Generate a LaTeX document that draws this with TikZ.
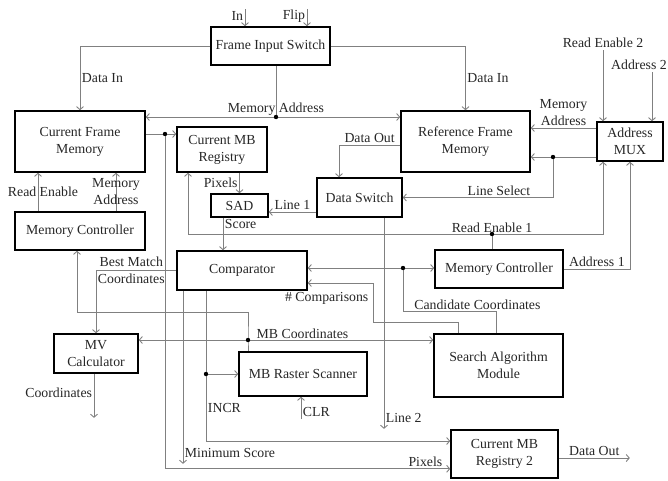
\documentclass[tikz,border=0pt]{standalone}
\usepackage{fontspec}
\setmainfont{Liberation Serif}
\usetikzlibrary{positioning,arrows.meta}

\begin{document}
\begin{tikzpicture}[x=1pt, y=-1pt,
    font=\fontsize{13.8}{17}\selectfont,
    box/.style={draw, line width=1.6pt, align=center, inner sep=0pt, text=black!85},
    arr/.style={draw=black!50, line width=0.9pt, -{Straight Barb[length=3pt,width=7pt]}},
    wire/.style={draw=black!50, line width=0.9pt},
    lbl/.style={inner sep=1.5pt, text=black!85, align=center}]
  \useasboundingbox (0,0) rectangle (668,480);

  \node[box, minimum width=119pt, minimum height=38pt] (fis) at (270.5,46) {Frame Input Switch};
  \node[box, minimum width=130pt, minimum height=61pt] (cfm) at (80,141.5) {Current Frame\\Memory};
  \node[box, minimum width=90pt, minimum height=45pt] (cmb) at (222,149.5) {Current MB\\Registry};
  \node[box, minimum width=129pt, minimum height=61pt] (rfm) at (465.5,141.5) {Reference Frame\\Memory};
  \node[box, minimum width=66pt, minimum height=39pt] (mux) at (630,141.5) {Address\\MUX};
  \node[box, minimum width=85pt, minimum height=39pt] (dsw) at (359.5,197.5) {Data Switch};
  \node[box, minimum width=57pt, minimum height=23pt] (sad) at (239.5,205.5) {SAD};
  \node[box, minimum width=130pt, minimum height=38pt] (mcl) at (80,231) {Memory Controller};
  \node[box, minimum width=130pt, minimum height=39pt] (cmp) at (242,270.5) {Comparator};
  \node[box, minimum width=128pt, minimum height=38pt] (mcr) at (499,269) {Memory Controller};
  \node[box, minimum width=84pt, minimum height=39pt] (mvc) at (96,353.5) {MV\\Calculator};
  \node[box, minimum width=128pt, minimum height=44pt] (mbr) at (303,374) {MB Raster Scanner};
  \node[box, minimum width=129pt, minimum height=63pt] (sam) at (498.5,365.5) {Search Algorithm\\Module};
  \node[box, minimum width=107pt, minimum height=48pt] (cmb2) at (504.5,454) {Current MB\\Registry 2};

  \coordinate (in) at (245,9);
  \coordinate (flip) at (307,9);
  \coordinate (ma) at (276,117);
  \coordinate (px) at (165,134);
  \coordinate (ls) at (553,157);
  \coordinate (re1) at (492,234);
  \coordinate (re2) at (603,50);
  \coordinate (ad2) at (652,72);
  \coordinate (cc) at (403,268);
  \coordinate (nc) at (373,283);
  \coordinate (mbc) at (248,340);
  \coordinate (clr) at (301,419);
  \coordinate (m1) at ([yshift=13.5pt]mux.west);
  \coordinate (m2) at ([yshift=-15.5pt]mux.west);
  \coordinate (l1) at ([yshift=-14.5pt]dsw.west);
  \coordinate (sc) at ([xshift=-16.5pt]sad.south);
  \coordinate (ic) at ([xshift=-36pt]cmp.south);
  \coordinate (incr) at (ic |- mbr.west);

  \draw[arr] (in) -- (in |- fis.north) node[lbl, pos=0.4, left] {In};
  \draw[arr] (flip) -- (flip |- fis.north) node[lbl, pos=0.4, left] {Flip};
  \draw[arr] (fis.west) -| (cfm.north) node[lbl, pos=0.75, right] {Data In};
  \draw[arr] (fis.east) -| (rfm.north) node[lbl, pos=0.75, right] {Data In};

  \draw[wire] (ma |- fis.south) -- (ma);
  \draw[arr] (ma) -- (ma -| cfm.east);
  \draw[arr] (ma) -- (ma -| rfm.west);
  \node[lbl, above] (mal) at (ma) {Memory Address};

  \draw[arr] (px -| cfm.east) -- (px -| cmb.west);
  \draw[arr] (px) |- ([yshift=10pt]cmb2.south west) node[lbl, above left, xshift=-6pt] {Pixels};

  \draw[arr] ([yshift=-3.5pt]rfm.west) -| ([xshift=-20.5pt]dsw.north) node[lbl, pos=0.25, above] {Data Out};
  \draw[arr] (m1) -- (m1 -| rfm.east) node[lbl, midway, above] {Memory\\Address};
  \draw[arr] (m2) -- (m2 -| rfm.east);
  \draw[arr] (ls) |- (dsw.east) node[lbl, pos=0.68, above] {Line Select};
  \draw[arr] (l1) -- (l1 -| sad.east) node[lbl, midway, above] {Line 1};
  \draw[arr] (sad.north |- cmb.south) -- (sad.north) node[lbl, midway, left] {Pixels};
  \draw[arr] (sc) -- (sc |- cmp.north) node[lbl, pos=0.2, right] {Score};

  \draw[arr] (re2) node[lbl, above] {Read Enable 2} -- (re2 |- mux.north);
  \draw[arr] (ad2) node[lbl, above, xshift=-13pt] {Address 2} -- (ad2 |- mux.north);
  \draw[wire] (re1 |- mcr.north) -- (re1);
  \draw[arr] (re1) -| ([xshift=-27pt]mux.south);
  \draw[arr] (re1) -| ([xshift=-34pt]cmb.south);
  \node[lbl, above] (re1l) at (re1) {Read Enable 1};
  \draw[arr] (mcr.east) -| (mux.south) node[lbl, pos=0.25, above] {Address 1};

  \draw[wire] ([xshift=-2.5pt]sam.north) -- ++(0,-22) -| (cc) node[lbl, pos=0.1, above] {Candidate Coordinates};
  \draw[arr] (cc) -- (cc -| cmp.east);
  \draw[arr] (cc) -- (cc -| mcr.west);
  \draw[arr] ([xshift=-40.5pt]sam.north) -- ++(0,-11) -| (nc) -- (nc -| cmp.east);
  \node[lbl, anchor=north east] (ncl) at ([shift={(-3,8)}]nc) {\# Comparisons};

  \draw[arr] (mbc) -- (mbc -| mvc.east);
  \draw[arr] (mbc) -- (mbc -| sam.west);
  \draw[arr] (mbc |- mbr.north) -- (mbc) -- ++(0,-28) -| ([xshift=-3pt]mcl.south);
  \node[lbl, anchor=south west] (mbcl) at ([xshift=7pt]mbc) {MB Coordinates};

  \draw[arr] (cmp.west) -| (mvc.north) node[lbl, pos=0.28] {Best Match\\Coordinates};
  \draw[arr] ([xshift=-42pt]mcl.north) -- ([xshift=-42pt]cfm.south) node[lbl, midway, xshift=5pt] {Read Enable};
  \draw[arr] ([xshift=36pt]mcl.north) -- ([xshift=36pt]cfm.south) node[lbl, midway] {Memory\\Address};

  \draw[arr] ([xshift=-59pt]cmp.south) -- ++(0,173) node[lbl, pos=0.94, right] {Minimum Score};
  \draw[arr] (ic) |- ([yshift=13pt]cmb2.west) node[lbl, pos=0.39, right] {INCR};
  \draw[arr] (incr) -- (mbr.west);
  \draw[arr] (clr) -- (clr |- mbr.south) node[lbl, pos=0.3, right] {CLR};
  \draw[arr] ([xshift=24.5pt]dsw.south) -- ++(0,211) node[lbl, pos=0.95, right] {Line 2};
  \draw[arr] ([xshift=-2pt]mvc.south) -- ++(0,44) node[lbl, pos=0.43, left] {Coordinates};
  \draw[arr] ([yshift=-4pt]cmb2.east) -- ++(71,0) node[lbl, midway, above] {Data Out};

  \foreach \p in {ma,px,ls,re1,cc,mbc,incr}
    \fill (\p) circle (2.2pt);
\end{tikzpicture}
\end{document}
